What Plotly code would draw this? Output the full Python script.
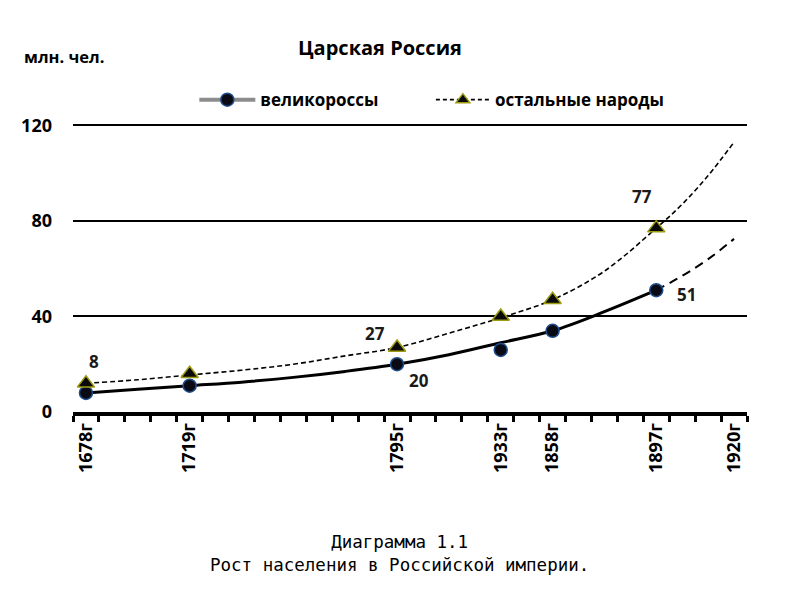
import plotly.graph_objects as go

# подписи оси X и их позиции (номер категории)
tick_labels = ["1678г", "1719г", "1795г", "1933г", "1858г", "1897г", "1920г"]
tick_idx = [0, 4, 12, 16, 18, 22, 25]

# точки данных, млн. чел.
point_idx = [0, 4, 12, 16, 18, 22]
velikorossy = [8, 11, 20, 26, 34, 51]
ostalnye = [12, 16, 27, 40, 47, 77]

# линии тренда
trend_v_idx = [0, 2, 4, 6, 8, 10, 12, 14, 16, 18, 20, 22]
trend_v = [8, 9.5, 11, 12.5, 14.5, 17, 20, 24, 29, 34, 42, 51]
forecast_v_idx = [22, 23, 24, 25]
forecast_v = [51, 57, 64, 72.5]
trend_o_idx = [0, 2, 4, 6, 8, 10, 12, 14, 16, 18, 20, 22, 23, 24, 25]
trend_o = [12, 13.5, 15.5, 17.5, 20, 23.5, 27, 33, 39.5, 47, 59, 77, 87, 99, 113]

# подписи значений
lbl_idx = [0, 12, 12, 22, 22]
lbl_y = [12, 27, 20, 77, 51]
lbl_text = ["8", "27", "20", "77", "51"]
lbl_shift = [(8, 22), (-22, 14), (22, -16), (-14, 32), (30, -4)]

bold = dict(family="Open Sans", size=18, color="black", weight="bold")
mark_v = dict(symbol="circle", size=13, color="#0a0a14", line=dict(color="#1f4e8c", width=1.5))
mark_o = dict(symbol="triangle-up", size=15, color="#0a0a0a", line=dict(color="#9c9c10", width=1.5))

fig = go.Figure()

fig.add_trace(go.Scatter(x=trend_v_idx, y=trend_v, mode="lines", line=dict(color="black", width=3, shape="spline"),
                         showlegend=False, hoverinfo="skip"))
fig.add_trace(go.Scatter(x=forecast_v_idx, y=forecast_v, mode="lines",
                         line=dict(color="black", width=2, dash="9px,6px", shape="spline"),
                         showlegend=False, hoverinfo="skip"))
fig.add_trace(go.Scatter(x=trend_o_idx, y=trend_o, mode="lines",
                         line=dict(color="black", width=1.6, dash="5px,3px", shape="spline"),
                         showlegend=False, hoverinfo="skip"))

fig.add_trace(go.Scatter(x=point_idx, y=velikorossy, mode="markers", showlegend=False, marker=mark_v))
fig.add_trace(go.Scatter(x=point_idx, y=ostalnye, mode="markers", showlegend=False, marker=mark_o))

# записи легенды
fig.add_trace(go.Scatter(x=[None], y=[None], mode="lines+markers", name="великороссы",
                         line=dict(color="#8c8c8c", width=4), marker=mark_v, legend="legend"))
fig.add_trace(go.Scatter(x=[None], y=[None], mode="lines+markers", name="остальные народы",
                         line=dict(color="black", width=1.6, dash="4px,3px"),
                         marker=dict(mark_o, size=12), legend="legend2"))

for xi, yi, t, (dx, dy) in zip(lbl_idx, lbl_y, lbl_text, lbl_shift):
    fig.add_annotation(x=xi, y=yi, text=t, showarrow=False, xshift=dx, yshift=dy,
                       font=dict(family="Open Sans", size=17, color="#1a1a1a", weight="bold"))

fig.add_annotation(xref="paper", yref="paper", x=0.455, y=1.0, yshift=77, yanchor="middle",
                   text="Царская Россия", showarrow=False,
                   font=dict(family="Open Sans", size=20, color="black", weight="bold"))
fig.add_annotation(xref="paper", yref="paper", x=0, y=1.0, xshift=-51, yshift=68, text="млн. чел.",
                   showarrow=False, xanchor="left", yanchor="middle",
                   font=dict(family="Open Sans", size=16.5, color="black", weight="bold"))
fig.add_annotation(xref="paper", yref="paper", x=0.485, y=0, yshift=-141, yanchor="middle",
                   text="Диаграмма 1.1<br>Рост населения в Российской империи.", showarrow=False,
                   font=dict(family="DejaVu Sans Mono", size=17.5, color="black"))

leg_font = dict(family="Open Sans", size=17, color="black", weight="bold")
fig.update_layout(
    width=800, height=600,
    margin=dict(l=65, r=61, t=116, b=196),
    paper_bgcolor="white", plot_bgcolor="white",
    showlegend=True,
    legend=dict(x=0.18, xanchor="left", y=1.083, yanchor="middle", font=leg_font,
                itemwidth=56, bgcolor="rgba(0,0,0,0)"),
    legend2=dict(x=0.531, xanchor="left", y=1.083, yanchor="middle", font=leg_font,
                 itemwidth=54, bgcolor="rgba(0,0,0,0)"),
    xaxis=dict(range=[-0.5, 25.5], tickmode="array", tickvals=tick_idx, ticktext=tick_labels,
               tickangle=-90, tickfont=bold, showgrid=False, zeroline=False,
               showline=True, linecolor="black", linewidth=4, ticks="",
               minor=dict(tick0=-0.5, dtick=1, ticks="outside", ticklen=6, tickwidth=3,
                          tickcolor="black", showgrid=False)),
    yaxis=dict(range=[0, 120.6], tickvals=[0, 40, 80, 120], tickfont=bold,
               showgrid=True, gridcolor="black", gridwidth=2, zeroline=False,
               showline=False, ticks="", ticklabelstandoff=20),
)

fig.write_html("out.html")
